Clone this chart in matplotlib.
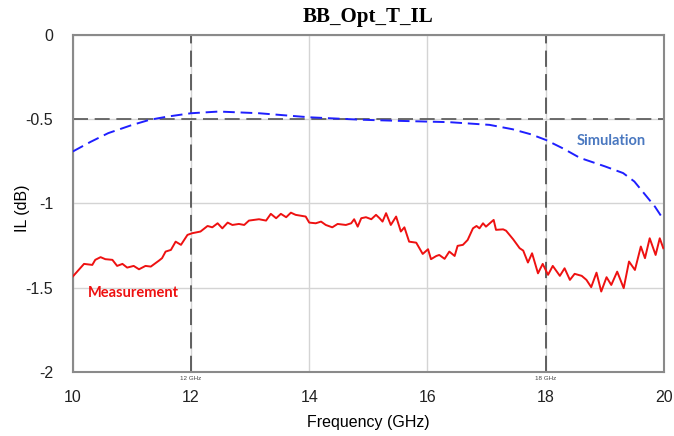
import matplotlib
matplotlib.use("Agg")
import matplotlib.pyplot as plt

sim_freq = [10.0, 10.3, 10.6, 11.0, 11.3, 11.6, 12.0, 12.47, 13.15, 14.0, 14.85, 15.02, 15.5, 16.37, 17.05, 17.44, 17.75, 18.0, 18.3, 18.58, 19.0, 19.31, 19.5, 19.71, 19.85, 20.0]
sim_il = [-0.692, -0.635, -0.583, -0.535, -0.504, -0.485, -0.465, -0.455, -0.465, -0.489, -0.503, -0.505, -0.510, -0.518, -0.534, -0.56, -0.59, -0.623, -0.675, -0.73, -0.78, -0.82, -0.87, -0.96, -1.02, -1.10]

meas_freq = [10.00, 10.19, 10.33, 10.38, 10.47, 10.55, 10.67, 10.75, 10.84, 10.92, 11.03, 11.12, 11.23, 11.32,
             11.46, 11.51, 11.57, 11.66, 11.74, 11.83, 11.94, 12.02, 12.16, 12.28, 12.36, 12.45, 12.53, 12.62,
             12.70, 12.81, 12.90, 12.98, 13.15, 13.27, 13.35, 13.44, 13.52, 13.61, 13.69, 13.77, 13.94, 14.00,
             14.11, 14.20, 14.28, 14.39, 14.48, 14.62, 14.71, 14.76, 14.82, 14.88, 14.96, 15.05, 15.13, 15.19,
             15.24, 15.30, 15.38, 15.47, 15.55, 15.61, 15.69, 15.81, 15.92, 16.01, 16.06, 16.15, 16.20, 16.29,
             16.37, 16.46, 16.51, 16.60, 16.68, 16.77, 16.83, 16.88, 16.94, 16.99, 17.12, 17.16, 17.28, 17.33,
             17.45, 17.56, 17.62, 17.70, 17.77, 17.87, 17.95, 18.04, 18.12, 18.24, 18.32, 18.41, 18.49, 18.61,
             18.69, 18.77, 18.86, 18.94, 19.03, 19.11, 19.21, 19.32, 19.41, 19.51, 19.61, 19.68, 19.76, 19.86,
             19.93, 19.99]
meas_il = [-1.434, -1.359, -1.365, -1.335, -1.319, -1.331, -1.335, -1.371, -1.359, -1.381, -1.371, -1.391, -1.371, -1.375,
           -1.339, -1.325, -1.286, -1.276, -1.227, -1.246, -1.187, -1.177, -1.167, -1.134, -1.142, -1.118, -1.148, -1.114,
           -1.128, -1.122, -1.128, -1.102, -1.094, -1.102, -1.062, -1.088, -1.062, -1.082, -1.055, -1.068, -1.078, -1.114,
           -1.118, -1.108, -1.128, -1.142, -1.122, -1.128, -1.118, -1.094, -1.138, -1.088, -1.082, -1.094, -1.068, -1.088,
           -1.108, -1.058, -1.128, -1.078, -1.167, -1.142, -1.227, -1.233, -1.300, -1.272, -1.331, -1.312, -1.306, -1.329,
           -1.286, -1.312, -1.252, -1.246, -1.217, -1.148, -1.134, -1.148, -1.118, -1.138, -1.098, -1.157, -1.154, -1.162,
           -1.213, -1.266, -1.280, -1.351, -1.296, -1.415, -1.359, -1.424, -1.371, -1.430, -1.385, -1.454, -1.418, -1.430,
           -1.454, -1.497, -1.411, -1.523, -1.438, -1.484, -1.405, -1.503, -1.345, -1.395, -1.256, -1.325, -1.207, -1.306,
           -1.207, -1.266]

x_ticks = [10, 12, 14, 16, 18, 20]
y_ticks = [0, -0.5, -1, -1.5, -2]
y_tick_labels = ["0", "-0.5", "-1", "-1.5", "-2"]
markers = [12, 18]
marker_labels = ["12 GHz", "18 GHz"]
ref_level = -0.5

plt.rcParams['font.family'] = ['Liberation Sans', 'DejaVu Sans']

fig = plt.figure(figsize=(6.74, 4.36), dpi=100)
ax = fig.add_axes([0.108, 0.147, 0.877, 0.773])

ax.set_xlim(10, 20)
ax.set_ylim(-2, 0)
ax.set_xticks(x_ticks)
ax.set_yticks(y_ticks)
ax.set_yticklabels(y_tick_labels)
ax.grid(True, color='#d4d4d4', linewidth=1.0)
ax.set_axisbelow(True)
ax.tick_params(length=0, labelsize=11.5, colors='#222222')
ax.tick_params(axis='y', pad=14)
ax.tick_params(axis='x', pad=13)

for s in ax.spines.values():
    s.set_color('#8a8a8a')
    s.set_linewidth(1.5)

for m, lab in zip(markers, marker_labels):
    ax.axvline(m, color='#555555', linewidth=1.3, linestyle=(0, (9, 4)), zorder=2)
    ax.text(m, -2.022, lab, ha='center', va='top', fontsize=4.5, color='#444444')
ax.axhline(ref_level, color='#555555', linewidth=1.2, linestyle=(0, (9, 4)), zorder=2)

ax.plot(sim_freq, sim_il, color='#1f1fff', linewidth=1.4, linestyle=(0, (6, 3)), zorder=3)
ax.plot(meas_freq, meas_il, color='#ee1111', linewidth=1.4, zorder=3)

ax.text(10.25, -1.53, "Measurement", color='#ee1111', fontsize=10.5, fontweight='bold',
        family=['Lato', 'DejaVu Sans'], ha='left', va='center')
ax.text(18.52, -0.63, "Simulation", color='#4a78c0', fontsize=10.5, fontweight='bold',
        family=['Lato', 'DejaVu Sans'], ha='left', va='center')

ax.set_title("BB_Opt_T_IL", family=['Liberation Serif', 'DejaVu Serif'], fontweight='bold',
             fontsize=15, pad=9)
ax.set_xlabel("Frequency (GHz)", fontsize=11.5, labelpad=7)
ax.set_ylabel("IL (dB)", fontsize=11.5)
ax.yaxis.set_label_coords(-0.072, 0.485)

fig.savefig("out.png", dpi=100, facecolor='white')
